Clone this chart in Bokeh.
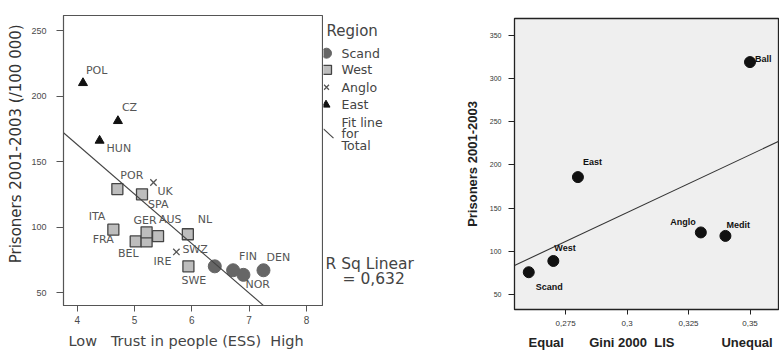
import numpy as np
from bokeh.plotting import figure
from bokeh.layouts import row
from bokeh.models import ColumnDataSource, FixedTicker, Label, Range1d
from bokeh.embed import file_html
from bokeh.resources import INLINE
from bokeh.core.properties import value

# ---------------- Left panel data ----------------
countries = ["POL", "CZ", "HUN", "POR", "UK", "SPA", "ITA", "FRA", "BEL", "GER",
             "AUS", "NL", "IRE", "SWE", "SWZ", "FIN", "NOR", "DEN"]
regions = ["East", "East", "East", "West", "Anglo", "West", "West", "West", "West", "West",
           "West", "West", "Anglo", "West", "Scand", "Scand", "Scand", "Scand"]
trust = [4.10, 4.71, 4.39, 4.70, 5.33, 5.13, 4.63, 5.02, 5.21, 5.21,
         5.41, 5.93, 5.73, 5.94, 6.40, 6.72, 6.90, 7.25]
prisoners = [210, 181, 166, 129, 134, 125, 98, 89, 89, 96,
             93, 94.5, 81, 70, 70, 67, 63.5, 67]
region_names = ["Scand", "West", "Anglo", "East"]
legend_title = "Region"
fit_legend_lines = ["Fit line", "for", "Total"]
trust_ticks = [4, 5, 6, 7, 8]
left_prison_ticks = [50, 100, 150, 200, 250]
r_sq_text = ["R Sq Linear", "= 0,632"]

# ---------------- Right panel data ----------------
groups = ["Scand", "West", "East", "Anglo", "Medit", "Ball"]
gini = [0.26, 0.27, 0.28, 0.33, 0.34, 0.35]
group_prisoners = [76, 89, 186, 122, 118, 319]
gini_ticks = [0.275, 0.3, 0.325, 0.35]
gini_tick_labels = ["0,275", "0,3", "0,325", "0,35"]
right_prison_ticks = [50, 100, 150, 200, 250, 300, 350]

# ---------------- label layout (pixel offsets) ----------------
lab_dx = [3, 4, 7, 3, 4, 6, -8, -22, -8, -13, 1, 10, -5, -7, -7, 6, 2, 3]
lab_dy = [12, 13, -8, 14, -9, -10, 13, 2, -12, 12, 17, 15, -10, -14, 17, 14, -10, 13]
lab_right = [False, False, False, False, False, False, True, True, True, False,
             False, False, True, False, True, False, False, False]
g_dx = [7, 1, 5, -5, 1, 5]
g_dy = [-15, 13, 15, 10, 11, 3]
g_right = [False, False, False, True, False, False]

# legend panel layout, in panel pixels (x right, y down)
leg_swatch_x = [3, 3.5, 3, 2.5]
leg_row_y = [37.7, 54.3, 71.7, 89.3]
leg_text_x = 18
leg_fit_rows_y = [106.7, 118.3, 130]
leg_fit_swatch = ([0, 10], [113.3, 122.7])

FONT = "Liberation Sans"
WFONT = "DejaVu Sans"
GRAY = "#4a4a4a"
NB = "\u00a0"


def no_align(p):
    try:
        p.frame_align = False
    except Exception:
        pass


# =============== Left figure ===============
p1 = figure(width=323, height=352, x_range=Range1d(3.76, 8.28), y_range=Range1d(40.1, 261.5),
            output_backend="svg", toolbar_location=None,
            min_border_left=63, min_border_right=1, min_border_top=15, min_border_bottom=47)
no_align(p1)
p1.grid.visible = False
p1.outline_line_color = "#555555"
p1.outline_line_width = 1.2
p1.background_fill_color = "white"

p1.xaxis.ticker = FixedTicker(ticks=trust_ticks)
p1.yaxis.ticker = FixedTicker(ticks=left_prison_ticks)
for ax in (p1.xaxis[0], p1.yaxis[0]):
    ax.axis_line_color = "#555555"
    ax.major_tick_line_color = "#555555"
    ax.major_tick_in = 0
    ax.minor_tick_line_color = None
    ax.major_label_text_font = FONT
    ax.major_label_text_color = GRAY
p1.xaxis.major_tick_out = 6
p1.yaxis.major_tick_out = 7
p1.xaxis.major_label_text_font_size = "10px"
p1.yaxis.major_label_text_font_size = "9px"
p1.xaxis.major_label_standoff = 4
p1.yaxis.major_label_standoff = 10
p1.yaxis.axis_label = NB * 7 + "Prisoners 2001-2003 (/100 000)"
p1.yaxis.axis_label_text_font = WFONT
p1.yaxis.axis_label_text_font_size = "15px"
p1.yaxis.axis_label_text_font_style = "normal"
p1.yaxis.axis_label_text_color = "#333333"
p1.yaxis.axis_label_standoff = 3
p1.xaxis.axis_label = ("Low" + NB * 3 + "Trust in people (ESS)" + NB * 2 + "High" + NB * 3)
p1.xaxis.axis_label_text_font = WFONT
p1.xaxis.axis_label_text_font_size = "14.5px"
p1.xaxis.axis_label_text_font_style = "normal"
p1.xaxis.axis_label_text_color = "#444444"
p1.xaxis.axis_label_standoff = 6

styles = {
    "Scand": dict(marker="circle", size=13, fill_color="#666666", line_color="#666666"),
    "West": dict(marker="square", size=11, fill_color="#bdbdbd", line_color="#444444", line_width=1.3),
    "Anglo": dict(marker="x", size=9, line_color="#555555", line_width=1.3),
    "East": dict(marker="triangle", size=9, fill_color="#111111", line_color="#111111"),
}
legend_sizes = {"Scand": 10, "West": 9, "Anglo": 7, "East": 8}
for reg in region_names:
    idx = [i for i, r in enumerate(regions) if r == reg]
    src = ColumnDataSource(dict(x=[trust[i] for i in idx], y=[prisoners[i] for i in idx]))
    p1.scatter("x", "y", source=src, **styles[reg])

slope1, icpt1 = np.polyfit(trust, prisoners, 1)
fx1 = [p1.x_range.start, p1.x_range.end]
FIT_STYLE = dict(line_color="#444444", line_width=1.1)
p1.line(fx1, [icpt1 + slope1 * v for v in fx1], **FIT_STYLE)

for right in (False, True):
    idx = [i for i in range(len(countries)) if lab_right[i] == right]
    src = ColumnDataSource(dict(x=[trust[i] for i in idx], y=[prisoners[i] for i in idx],
                                t=[countries[i] for i in idx],
                                dx=[lab_dx[i] for i in idx], dy=[-lab_dy[i] for i in idx]))
    p1.text("x", "y", text="t", source=src, x_offset="dx", y_offset="dy",
            text_align="right" if right else "left", text_baseline="middle",
            text_font=value(WFONT), text_font_size="11px", text_color="#555555")

# =============== Legend panel (between the two charts) ===============
pleg = figure(width=117, height=352, x_range=Range1d(0, 117), y_range=Range1d(337, 0),
              output_backend="svg", toolbar_location=None,
              min_border_left=0, min_border_right=0, min_border_top=15, min_border_bottom=0)
no_align(pleg)
pleg.axis.visible = False
pleg.grid.visible = False
pleg.outline_line_color = None
for reg, sx, sy in zip(region_names, leg_swatch_x, leg_row_y):
    st = dict(styles[reg])
    st["size"] = legend_sizes[reg]
    pleg.scatter(x=[sx], y=[sy], **st)
pleg.line(x=leg_fit_swatch[0], y=leg_fit_swatch[1], **FIT_STYLE)
pleg.text(x=[3], y=[15], text=[legend_title], text_baseline="middle",
          text_font=value(WFONT), text_font_size="15px", text_color="#444444")
pleg.text(x=[leg_text_x] * (len(region_names) + len(fit_legend_lines)),
          y=leg_row_y + leg_fit_rows_y, text=region_names + fit_legend_lines,
          text_baseline="middle", text_font=value(WFONT), text_font_size="12.5px",
          text_color="#444444")
pleg.add_layout(Label(x=2, y=89, x_units="screen", y_units="screen", text=r_sq_text[0],
                      text_font=WFONT, text_font_size="15.5px", text_color="#444444",
                      text_baseline="middle"))
pleg.add_layout(Label(x=19, y=74, x_units="screen", y_units="screen", text=r_sq_text[1],
                      text_font=WFONT, text_font_size="15.5px", text_color="#444444",
                      text_baseline="middle"))

# =============== Right figure ===============
p2 = figure(width=339, height=352, x_range=Range1d(0.2542, 0.362), y_range=Range1d(32.9, 369.4),
            output_backend="svg", toolbar_location=None,
            min_border_left=74, min_border_right=0, min_border_top=18, min_border_bottom=39)
no_align(p2)
p2.grid.visible = False
p2.background_fill_color = "#efefef"
p2.outline_line_color = "#222222"
p2.outline_line_width = 1.3
p2.xaxis.ticker = FixedTicker(ticks=gini_ticks)
p2.xaxis.major_label_overrides = {t: l for t, l in zip(gini_ticks, gini_tick_labels)}
p2.yaxis.ticker = FixedTicker(ticks=right_prison_ticks)
for ax in (p2.xaxis[0], p2.yaxis[0]):
    ax.axis_line_color = "#222222"
    ax.major_tick_line_color = "#222222"
    ax.major_tick_in = 0
    ax.minor_tick_line_color = None
    ax.major_label_text_font = FONT
    ax.major_label_text_color = "#333333"
p2.xaxis.major_tick_out = 5
p2.yaxis.major_tick_out = 6
p2.xaxis.major_label_text_font_size = "8px"
p2.yaxis.major_label_text_font_size = "7px"
p2.xaxis.major_label_standoff = 6
p2.yaxis.major_label_standoff = 7
p2.yaxis.axis_label = "Prisoners 2001-2003"
p2.yaxis.axis_label_text_font = FONT
p2.yaxis.axis_label_text_font_size = "13px"
p2.yaxis.axis_label_text_font_style = "bold"
p2.yaxis.axis_label_text_color = "#222222"
p2.yaxis.axis_label_standoff = 7
p2.xaxis.axis_label = (NB * 2 + "Equal" + NB * 7 + "Gini 2000" + NB * 2 + "LIS" + NB * 13 + "Unequal")
p2.xaxis.axis_label_text_font = FONT
p2.xaxis.axis_label_text_font_size = "13px"
p2.xaxis.axis_label_text_font_style = "bold"
p2.xaxis.axis_label_text_color = "#222222"
p2.xaxis.axis_label_standoff = 6

src2 = ColumnDataSource(dict(x=gini, y=group_prisoners))
p2.scatter("x", "y", source=src2, marker="circle", size=11, fill_color="#111111", line_color="#111111")

slope2, icpt2 = np.polyfit(gini, group_prisoners, 1)
fx2 = [p2.x_range.start, p2.x_range.end]
p2.line(fx2, [icpt2 + slope2 * v for v in fx2], line_color="#333333", line_width=1.1)

for right in (False, True):
    idx = [i for i in range(len(groups)) if g_right[i] == right]
    src = ColumnDataSource(dict(x=[gini[i] for i in idx], y=[group_prisoners[i] for i in idx],
                                t=[groups[i] for i in idx],
                                dx=[g_dx[i] for i in idx], dy=[-g_dy[i] for i in idx]))
    p2.text("x", "y", text="t", source=src, x_offset="dx", y_offset="dy",
            text_align="right" if right else "left", text_baseline="middle",
            text_font=value(FONT), text_font_size="9px", text_font_style="bold",
            text_color="#111111")

layout = row(p1, pleg, p2, spacing=0)
open("out.html", "w").write(file_html(layout, INLINE))
